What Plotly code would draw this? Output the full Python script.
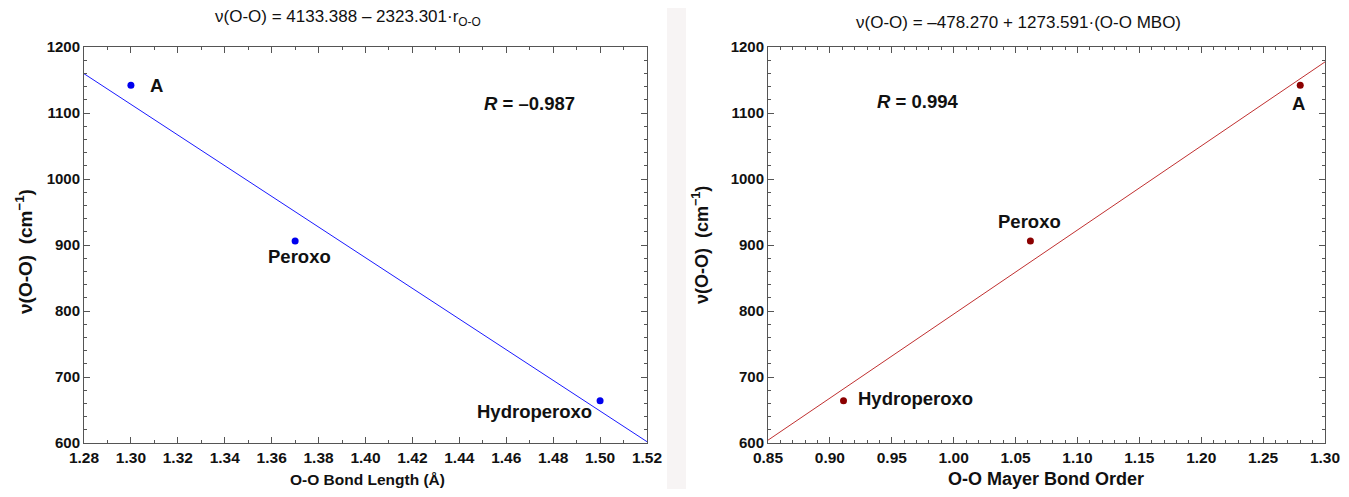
import plotly.graph_objects as go
import numpy as np

# page has an 8px body margin, so the figure is drawn 8px in from the corner;
# keep the page from overflowing the window (no scrollbars)
OFF = 8
W, H = 1349 - 2 * OFF, 497 - 2 * OFF

# ---- data ----
labels = ["A", "Peroxo", "Hydroperoxo"]
bond_length = [1.30, 1.37, 1.50]
freq = [1142, 906, 664]
mbo = [1.28, 1.062, 0.911]

fit1_a, fit1_b = 4133.388, -2323.301
fit2_a, fit2_b = -478.270, 1273.591
x1_range = [1.28, 1.52]
x2_range = [0.85, 1.30]
y_range = [600, 1200]

# label positions (data coords) for point labels
lab1_x = [1.311, 1.3717, 1.472]
lab1_y = [1142, 883, 648]
lab2_x = [1.2785, 1.0614, 0.969]
lab2_y = [1114, 935, 667]

def px_x(p):
    return (p - OFF) / W

def px_y(p):
    return 1 - (p - OFF) / H

fig = go.Figure()

# left plot
fx1 = np.array(x1_range)
fig.add_trace(go.Scatter(x=fx1, y=fit1_a + fit1_b * fx1, mode="lines",
                         line=dict(color="#1a1aff", width=1), xaxis="x", yaxis="y",
                         showlegend=False, hoverinfo="skip"))
fig.add_trace(go.Scatter(x=bond_length, y=freq, mode="markers",
                         marker=dict(color="#0000ee", size=7), xaxis="x", yaxis="y",
                         showlegend=False))
# right plot
fx2 = np.array(x2_range)
fig.add_trace(go.Scatter(x=fx2, y=fit2_a + fit2_b * fx2, mode="lines",
                         line=dict(color="#c03030", width=1), xaxis="x2", yaxis="y2",
                         showlegend=False, hoverinfo="skip"))
fig.add_trace(go.Scatter(x=mbo, y=freq, mode="markers",
                         marker=dict(color="#8b0000", size=7), xaxis="x2", yaxis="y2",
                         showlegend=False))

font_family = "Liberation Sans, Arial, sans-serif"
axis_common = dict(showgrid=False, zeroline=False, showline=True, mirror="ticks",
                   linecolor="#555555", linewidth=1, ticks="inside", ticklen=6,
                   tickcolor="#555555", tickwidth=1, automargin=False)

ydom = [px_y(443), px_y(47)]
fig.update_layout(
    width=W, height=H, margin=dict(l=0, r=0, t=0, b=0, autoexpand=False),
    plot_bgcolor="white", paper_bgcolor="white",
    font=dict(family=font_family, color="#111111"),
    xaxis=dict(domain=[px_x(84), px_x(647)], range=x1_range, anchor="y",
               tickvals=[round(1.28 + 0.02 * i, 2) for i in range(13)],
               ticktext=[f"{1.28 + 0.02 * i:.2f}" for i in range(13)],
               tickfont=dict(size=15.5, family=font_family, weight="bold"),
               minor=dict(dtick=0.01, tick0=1.28, ticks="inside", ticklen=3,
                          tickcolor="#555555"),
               **axis_common),
    yaxis=dict(domain=ydom, range=y_range, anchor="x", dtick=100,
               tickfont=dict(size=15, family=font_family, weight="bold"),
               minor=dict(dtick=20, ticks="inside", ticklen=3, tickcolor="#555555"),
               **axis_common),
    xaxis2=dict(domain=[px_x(768), px_x(1325)], range=x2_range, anchor="y2",
                tickvals=[round(0.85 + 0.05 * i, 2) for i in range(10)],
                ticktext=[f"{0.85 + 0.05 * i:.2f}" for i in range(10)],
                tickfont=dict(size=15.5, family=font_family, weight="bold"),
                minor=dict(dtick=0.01, tick0=0.85, ticks="inside", ticklen=3,
                           tickcolor="#555555"),
                **axis_common),
    yaxis2=dict(domain=ydom, range=y_range, anchor="x2", dtick=100,
                tickfont=dict(size=15, family=font_family, weight="bold"),
                minor=dict(dtick=20, ticks="inside", ticklen=3, tickcolor="#555555"),
                **axis_common),
)

# faint separator band
fig.add_shape(type="rect", xref="paper", yref="paper", x0=px_x(667), x1=px_x(686),
              y0=0, y1=1, fillcolor="#f7f4f4", line=dict(width=0), layer="below")

def pa(text, x, y, size, angle=0):
    return dict(text=text, x=px_x(x), y=px_y(y), xref="paper", yref="paper",
                xanchor="center", yanchor="middle", showarrow=False,
                textangle=angle, font=dict(size=size))

def da(text, x, y, xr, yr, size):
    return dict(text=text, x=x, y=y, xref=xr, yref=yr, xanchor="center",
                yanchor="middle", showarrow=False, font=dict(size=size))

ann = []
# titles
ann.append(pa("ν(O-O) = 4133.388 – 2323.301·r<sub>O-O</sub>", 348, 18, 17))
ann.append(pa("ν(O-O) = –478.270 + 1273.591·(O-O MBO)", 1018, 22, 17))
# axis titles
ann.append(pa("<b>O-O Bond Length (Å)</b>", 367, 479, 15.5))
ann.append(pa("<b>O-O Mayer Bond Order</b>", 1046, 479, 18))
ann.append(pa("<b>ν(O-O)  (cm<sup>−1</sup>)</b>", 24, 252, 19, -90))
ann.append(pa("<b>ν(O-O)  (cm<sup>−1</sup>)</b>", 700, 245, 18, -90))
# R values
ann.append(da("<b><i>R</i> = –0.987</b>", 1.470, 1115, "x", "y", 18.5))
ann.append(da("<b><i>R</i> = 0.994</b>", 0.971, 1118, "x2", "y2", 18.5))
# point labels
for t, x, y in zip(labels, lab1_x, lab1_y):
    ann.append(da(f"<b>{t}</b>", x, y, "x", "y", 18.5))
for t, x, y in zip(labels, lab2_x, lab2_y):
    ann.append(da(f"<b>{t}</b>", x, y, "x2", "y2", 18.5))
fig.update_layout(annotations=ann)

fig.write_html("out.html")
